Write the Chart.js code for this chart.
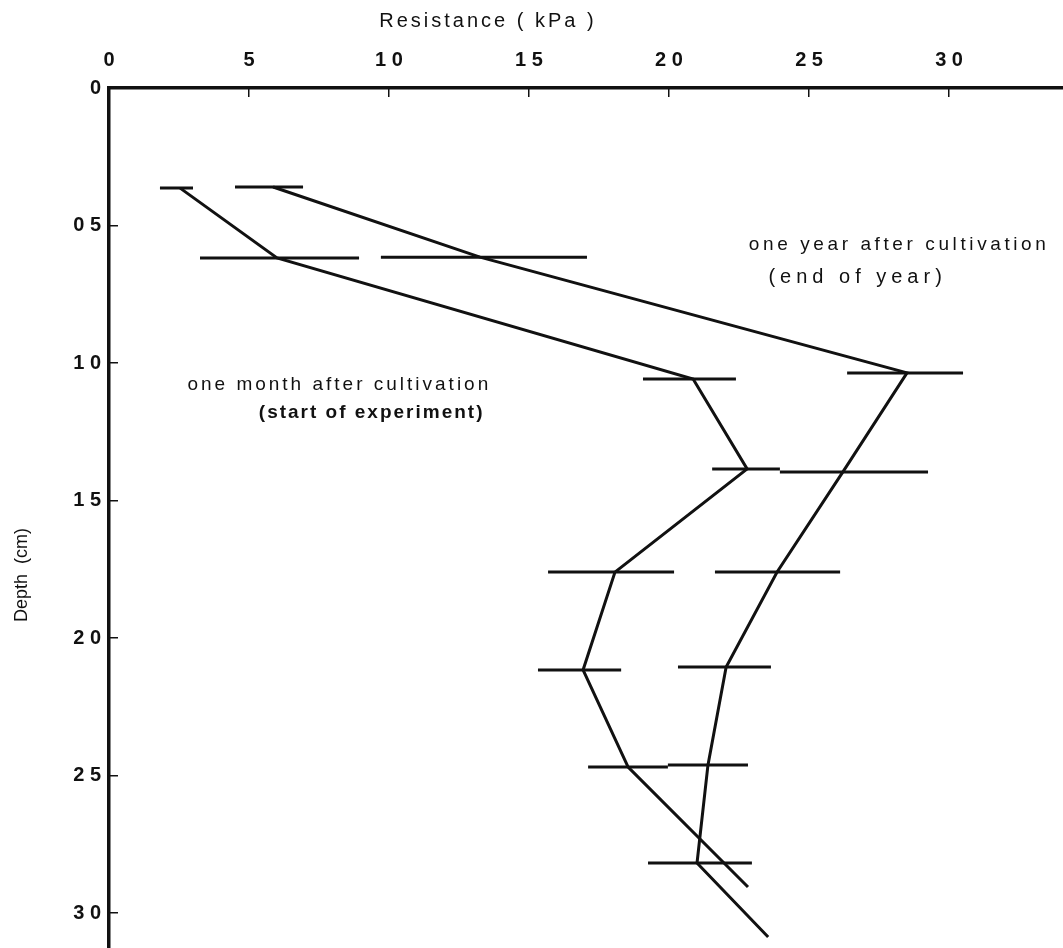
<!DOCTYPE html>
<html>
<head>
<meta charset="utf-8">
<script src="https://cdn.jsdelivr.net/npm/chart.js@4.4.1/dist/chart.umd.min.js"></script>
<style>
  html, body { margin: 0; padding: 0; background: #ffffff; }
  #wrap { width: 1063px; height: 948px; position: relative; }
</style>
</head>
<body>
<div id="wrap"><canvas id="c"></canvas></div>
<script>
// Axis ticks and their printed labels
const resistanceTicks = [0, 5, 10, 15, 20, 25, 30];
const resistanceTickLabels = ['0', '5', '1 0', '1 5', '2 0', '2 5', '3 0'];
const depthTicks = [0, 5, 10, 15, 20, 25, 30];
const depthTickLabels = ['0', '0 5', '1 0', '1 5', '2 0', '2 5', '3 0'];

// One month after cultivation (start of experiment)
const monthDepth      = [3.64, 6.18, 10.58, 13.85, 17.60, 21.16, 24.69, 29.05];
const monthResistance = [2.54, 6.00, 20.86, 22.79, 18.07, 16.93, 18.54, 22.82];
const monthLow        = [1.82, 3.25, 19.07, 21.54, 15.68, 15.32, 17.11, null];
const monthHigh       = [3.00, 8.93, 22.39, 23.96, 20.18, 18.29, 19.96, null];

// One year after cultivation (end of year)
const yearDepth      = [3.60, 6.15, 10.36, 13.96, 17.60, 21.05, 24.62, 28.18, 30.87];
const yearResistance = [5.86, 13.25, 28.50, 26.21, 23.86, 22.04, 21.39, 21.00, 23.54];
const yearLow        = [4.50, 9.71, 26.36, 23.96, 21.64, 20.32, 19.96, 19.25, null];
const yearHigh       = [6.93, 17.07, 30.50, 29.25, 26.11, 23.64, 22.82, 22.96, null];

const INK = '#111111';
const SANS = "'Liberation Sans', Arial, sans-serif";
const TICK_FONT = { family: SANS, size: 20, weight: 'bold' };

function profile(depths, values) {
  return {
    data: depths.map((d, i) => ({ x: values[i], y: d })),
    showLine: true,
    borderColor: INK,
    borderWidth: 3,
    pointRadius: 0,
    tension: 0,
    fill: false
  };
}

function errorBars(depths, lows, highs) {
  const sets = [];
  depths.forEach((d, i) => {
    if (lows[i] == null) return;
    sets.push({
      data: [{ x: lows[i], y: d }, { x: highs[i], y: d }],
      showLine: true,
      borderColor: INK,
      borderWidth: 3,
      pointRadius: 0,
      fill: false
    });
  });
  return sets;
}

// Curve captions, anchored in data coordinates (left edge, baseline)
const captions = [
  { text: 'one year after cultivation',  x: 22.85, y: 5.89,  font: '19px ' + SANS,      spacing: 3.6 },
  { text: '(end of year)',               x: 23.55, y: 7.09,  font: '20px ' + SANS,      spacing: 5 },
  { text: 'one month after cultivation', x: 2.80,  y: 10.98, font: '19px ' + SANS,      spacing: 3 },
  { text: '(start of experiment)',       x: 5.35,  y: 12.00, font: 'bold 19px ' + SANS, spacing: 2 }
];

const textPlugin = {
  id: 'figureText',
  afterDraw(chart) {
    const ctx = chart.ctx;
    const xs = chart.scales.x, ys = chart.scales.y;
    ctx.save();
    ctx.fillStyle = INK;
    ctx.textBaseline = 'alphabetic';
    ctx.textAlign = 'left';
    captions.forEach(c => {
      ctx.font = c.font;
      ctx.letterSpacing = c.spacing + 'px';
      ctx.fillText(c.text, xs.getPixelForValue(c.x), ys.getPixelForValue(c.y));
    });
    // axis titles
    ctx.letterSpacing = '3px';
    ctx.font = '20px ' + SANS;
    ctx.textAlign = 'center';
    ctx.textBaseline = 'middle';
    ctx.fillText('Resistance ( kPa )', 488, 21);
    ctx.letterSpacing = '0px';
    ctx.font = '18px ' + SANS;
    ctx.translate(22, 575);
    ctx.rotate(-Math.PI / 2);
    ctx.fillText('Depth  (cm)', 0, 0);
    ctx.restore();
  }
};

const datasets = [
  profile(monthDepth, monthResistance),
  profile(yearDepth, yearResistance),
  ...errorBars(monthDepth, monthLow, monthHigh),
  ...errorBars(yearDepth, yearLow, yearHigh)
];

new Chart(document.getElementById('c'), {
  type: 'scatter',
  data: { datasets },
  options: {
    responsive: true,
    maintainAspectRatio: false,
    animation: false,
    layout: { padding: 0 },
    plugins: { legend: { display: false }, tooltip: { enabled: false } },
    scales: {
      x: {
        type: 'linear',
        position: 'top',
        min: 0,
        max: 34.07,
        afterBuildTicks: s => { s.ticks = resistanceTicks.map(v => ({ value: v })); },
        afterFit: s => { s.height = 88; s.paddingLeft = 0; s.paddingRight = 0; },
        ticks: {
          color: INK,
          font: TICK_FONT,
          padding: 25,
          maxRotation: 0,
          callback: v => resistanceTickLabels[resistanceTicks.indexOf(v)]
        },
        grid: { drawOnChartArea: false, color: INK, lineWidth: 1.5, tickLength: -9 },
        border: { display: true, color: INK, width: 3.5 }
      },
      y: {
        type: 'linear',
        position: 'left',
        reverse: true,
        min: 0,
        max: 31.27,
        afterBuildTicks: s => { s.ticks = depthTicks.map(v => ({ value: v })); },
        afterFit: s => { s.width = 109; s.paddingTop = 0; s.paddingBottom = 0; },
        ticks: {
          color: INK,
          font: TICK_FONT,
          padding: 17,
          callback: v => depthTickLabels[depthTicks.indexOf(v)]
        },
        grid: { drawOnChartArea: false, color: INK, lineWidth: 1.5, tickLength: -9 },
        border: { display: true, color: INK, width: 3.5 }
      }
    }
  },
  plugins: [textPlugin]
});
</script>
</body>
</html>
